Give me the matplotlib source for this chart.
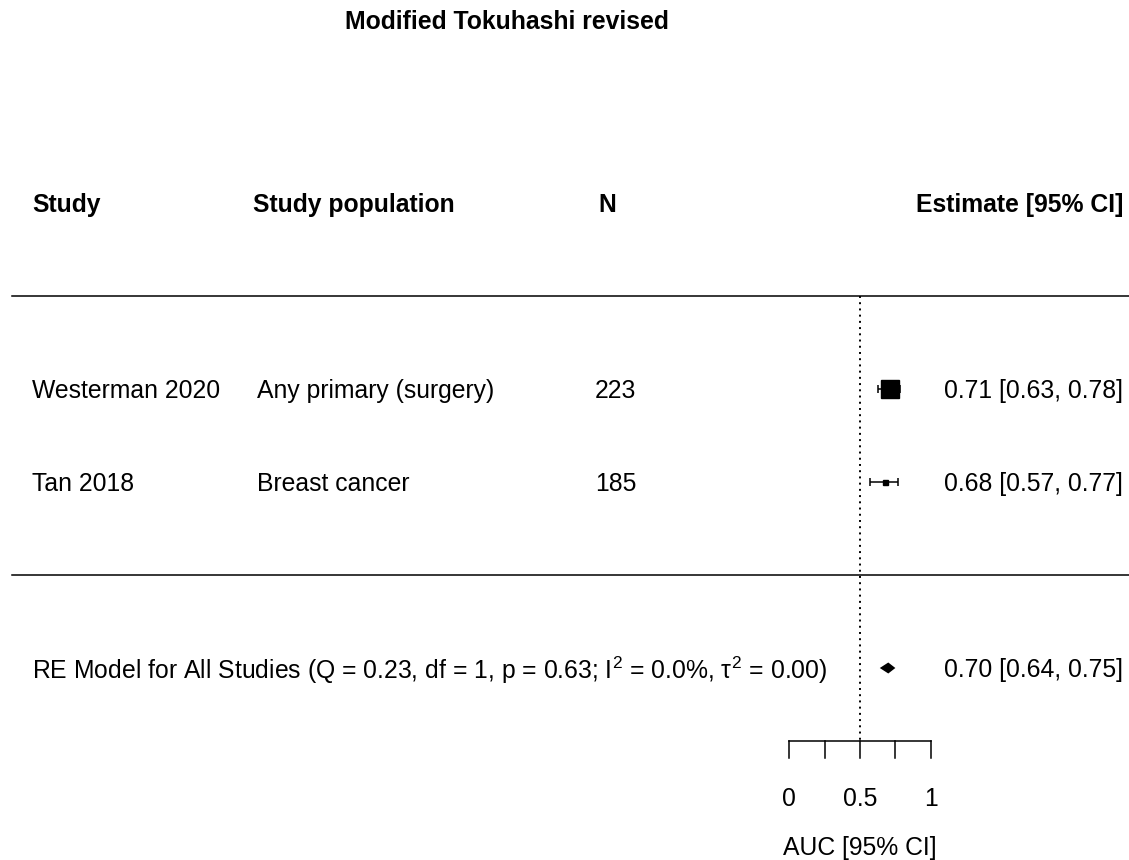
import matplotlib
matplotlib.use('Agg')
import matplotlib.pyplot as plt
from matplotlib.transforms import blended_transform_factory

# forest plot data
studies = ['Westerman 2020', 'Tan 2018']
populations = ['Any primary (surgery)', 'Breast cancer']
n_values = [223, 185]
est = [0.71, 0.68]
ci_low = [0.63, 0.57]
ci_high = [0.78, 0.77]
marker_sizes = [12.5, 3.6]
rows = [2, 1]

pooled = 0.70
pooled_low = 0.64
pooled_high = 0.75
pooled_label = ('RE Model for All Studies (Q = 0.23, df = 1, p = 0.63; '
                'I$^2$ = 0.0%, $\\tau^2$ = 0.00)')

xticks = [0, 0.25, 0.5, 0.75, 1]
xtick_labels = ['0', '', '0.5', '', '1']
ref_line = 0.5

plt.rcParams['font.family'] = ['Liberation Sans', 'DejaVu Sans']
plt.rcParams['mathtext.fontset'] = 'custom'
plt.rcParams['mathtext.rm'] = 'Liberation Sans'
plt.rcParams['mathtext.it'] = 'Liberation Sans'
plt.rcParams['mathtext.bf'] = 'Liberation Sans:bold'

fs = 17.8
fig = plt.figure(figsize=(11.29, 8.60), dpi=100)
ax = fig.add_axes([0, 0, 1, 1])
ax.set_xlim(-789.3 / 141.4, (1129 - 789.3) / 141.4)
ax.set_ylim(1 - 378 / 93, 1 + 482 / 93)
ax.axis('off')

# x in figure fraction, y in rows
tr = blended_transform_factory(fig.transFigure, ax.transData)
dy = -2.5 / 93  # small text nudge

def fx(px):
    return px / 1129

# title
ax.text(fx(507), 5.97 + dy, 'Modified Tokuhashi revised', transform=tr,
        ha='center', va='center', fontsize=fs, fontweight='bold')

# headers
hy = 4 + dy
ax.text(fx(32), hy, 'Study', transform=tr, ha='left', va='center',
        fontsize=fs, fontweight='bold')
ax.text(fx(253), hy, 'Study population', transform=tr, ha='left', va='center',
        fontsize=fs, fontweight='bold')
ax.text(fx(598), hy, 'N', transform=tr, ha='left', va='center',
        fontsize=fs, fontweight='bold')
ax.text(fx(1123), hy, 'Estimate [95% CI]', transform=tr, ha='right',
        va='center', fontsize=fs, fontweight='bold')

# separator lines
ax.plot([fx(12), 1], [3, 3], transform=tr, color='black', lw=1.1)
ax.plot([fx(12), 1], [0, 0], transform=tr, color='black', lw=1.1)

# reference line
axis_y = 1 - 259 / 93
ax.plot([ref_line, ref_line], [3, axis_y], color='black', lw=1.4,
        linestyle=(0, (1, 2.2)))

# study rows
for i in range(len(studies)):
    r = rows[i]
    ax.text(fx(32), r + dy, studies[i], transform=tr, ha='left', va='center', fontsize=fs)
    ax.text(fx(257), r + dy, populations[i], transform=tr, ha='left', va='center', fontsize=fs)
    ax.text(fx(595), r + dy, str(n_values[i]), transform=tr, ha='left', va='center', fontsize=fs)
    ax.text(fx(1123), r + dy, f'{est[i]:.2f} [{ci_low[i]:.2f}, {ci_high[i]:.2f}]',
            transform=tr, ha='right', va='center', fontsize=fs)
    ax.errorbar(est[i], r, xerr=[[est[i] - ci_low[i]], [ci_high[i] - est[i]]],
                fmt='none', ecolor='black', elinewidth=1.1, capsize=3.2,
                capthick=1.1)
    ax.plot(est[i], r, marker='s', color='black', markersize=marker_sizes[i],
            linestyle='none')

# pooled estimate
h = 5.5 / 93
ax.fill([pooled_low, pooled, pooled_high, pooled],
        [-1, -1 + h, -1, -1 - h], color='black', lw=0)
ax.text(fx(32), -1 + dy, pooled_label, transform=tr, ha='left', va='center', fontsize=fs)
ax.text(fx(1123), -1 + dy, f'{pooled:.2f} [{pooled_low:.2f}, {pooled_high:.2f}]',
        transform=tr, ha='right', va='center', fontsize=fs)

# x axis
tick_len = 17 / 93
ax.plot([xticks[0], xticks[-1]], [axis_y, axis_y], color='black', lw=1.1)
for t, lab in zip(xticks, xtick_labels):
    ax.plot([t, t], [axis_y, axis_y - tick_len], color='black', lw=1.1)
    if lab:
        ax.text(t, 1 - 314 / 93 + dy, lab, ha='center', va='center', fontsize=fs)
ax.text(0.5, 1 - 364 / 93 + dy, 'AUC [95% CI]', ha='center', va='center', fontsize=fs)

fig.savefig('out.png', dpi=100)
